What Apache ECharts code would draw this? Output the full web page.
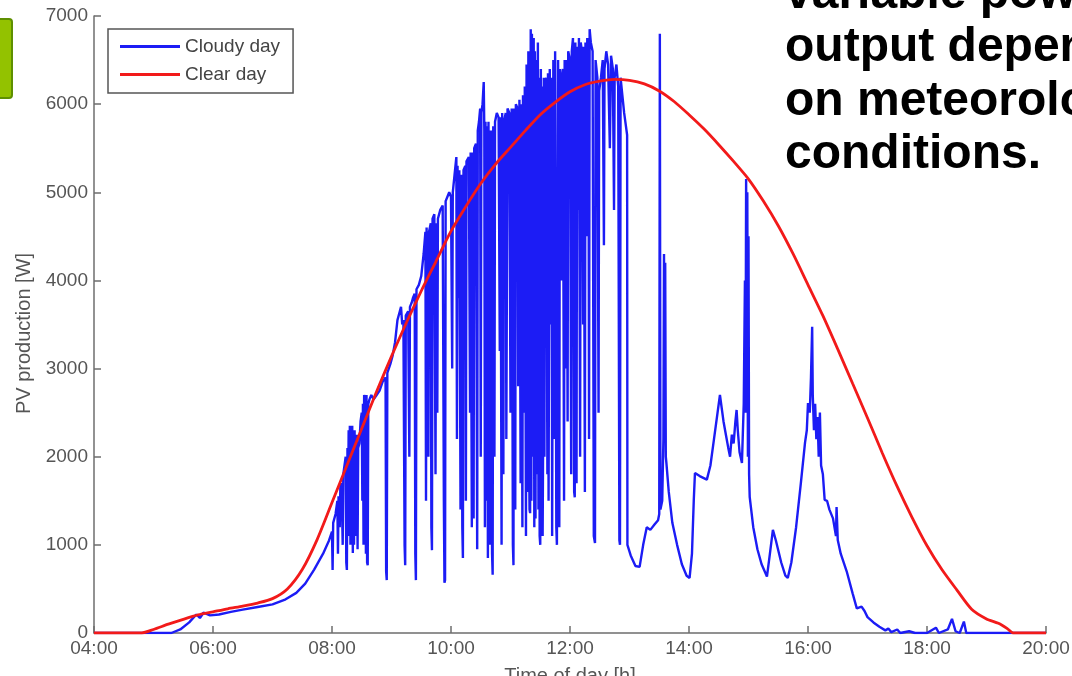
<!DOCTYPE html>
<html>
<head>
<meta charset="utf-8">
<script src="https://cdn.jsdelivr.net/npm/echarts@6/dist/echarts.min.js"></script>
<style>
html,body{margin:0;padding:0;background:#fff;}
#chart{width:1072px;height:676px;}
</style>
</head>
<body>
<div id="chart"></div>
<script>
// ---- data ----
const xTicks = [4, 6, 8, 10, 12, 14, 16, 18, 20];
const xTickLabels = ['04:00', '06:00', '08:00', '10:00', '12:00', '14:00', '16:00', '18:00', '20:00'];
const seriesNames = ['Cloudy day', 'Clear day'];
const sideText = ['variable power', 'output depends', 'on meteorological', 'conditions.'];

const clearHours = [4, 4.8, 5.0, 5.25, 5.5, 5.75, 6.0, 6.25, 6.5, 6.75, 7.0, 7.25, 7.5, 7.75, 8.0, 8.25, 8.5, 8.75,
  9.0, 9.25, 9.5, 9.75, 10.0, 10.25, 10.5, 10.75, 11.0, 11.25, 11.5, 11.75, 12.0, 12.25, 12.5, 12.75, 13.0,
  13.25, 13.5, 13.75, 14.0, 14.25, 14.5, 14.75, 15.0, 15.25, 15.5, 15.75, 16.0, 16.25, 16.5, 16.75, 17.0,
  17.25, 17.5, 17.75, 18.0, 18.25, 18.5, 18.75, 19.0, 19.2, 19.35, 19.45, 20];
const clearWatts = [0, 0, 40, 100, 155, 205, 240, 275, 305, 340, 390, 500, 720, 1060, 1480, 1900, 2320, 2740,
  3140, 3520, 3880, 4220, 4560, 4840, 5100, 5320, 5510, 5700, 5880, 6020, 6140, 6220, 6260, 6280, 6270,
  6230, 6150, 6030, 5880, 5720, 5540, 5350, 5150, 4900, 4620, 4300, 3950, 3600, 3220, 2830, 2440,
  2040, 1660, 1310, 990, 720, 490, 270, 160, 110, 50, 0, 0];

// cloudy day: [hour, watts]
const cloudyMorning = [
  [4, 0], [5.3, 0], [5.45, 40], [5.6, 120], [5.72, 210], [5.78, 170], [5.84, 230], [5.95, 200], [6.1, 210],
  [6.3, 240], [6.5, 265], [6.75, 295], [7.0, 325], [7.2, 375], [7.4, 455], [7.55, 560], [7.7, 720],
  [7.85, 900], [7.95, 1050], [8.0, 1150]
];
const cloudyMidday = [
  [8.01, 715], [8.02, 1250], [8.06, 1350], [8.09, 1500], [8.10, 900], [8.11, 1550], [8.13, 1200], [8.14, 1650],
  [8.16, 1700], [8.18, 1000], [8.19, 1800], [8.20, 1850], [8.23, 2000], [8.24, 800], [8.25, 715], [8.26, 2100],
  [8.27, 1500], [8.28, 2300], [8.29, 1100], [8.30, 2350], [8.31, 1000], [8.32, 2250], [8.33, 1200], [8.34, 2350],
  [8.35, 908], [8.36, 2250], [8.37, 1000], [8.38, 2300], [8.39, 1100], [8.40, 2200], [8.41, 1300], [8.42, 2250],
  [8.43, 950], [8.44, 2100], [8.46, 2150], [8.48, 2400], [8.50, 2500], [8.51, 1500], [8.52, 2600], [8.53, 1000],
  [8.54, 2700], [8.56, 2650], [8.57, 900], [8.58, 2700], [8.59, 800], [8.60, 770], [8.61, 2600], [8.63, 2650],
  [8.66, 2700], [8.70, 2650], [8.75, 2700], [8.80, 2750], [8.85, 2850], [8.90, 2900], [8.91, 700], [8.92, 600],
  [8.93, 2950], [8.98, 3050], [9.02, 3150], [9.06, 3300], [9.10, 3550], [9.14, 3650], [9.16, 3700], [9.18, 3500],
  [9.20, 3550], [9.22, 1000], [9.23, 770], [9.24, 3600], [9.28, 3650], [9.30, 2000], [9.31, 3700], [9.34, 3750],
  [9.36, 3800], [9.39, 3850], [9.40, 900], [9.41, 600], [9.42, 3900], [9.46, 3950], [9.50, 4050], [9.54, 4300],
  [9.57, 4550], [9.58, 1500], [9.59, 4600], [9.60, 4600], [9.62, 2000], [9.63, 4550], [9.66, 4650], [9.67, 1200],
  [9.68, 940], [9.69, 4700], [9.72, 4750], [9.74, 1800], [9.75, 4650], [9.77, 2500], [9.78, 4700], [9.82, 4800],
  [9.86, 4850], [9.88, 1500], [9.89, 570], [9.90, 600], [9.91, 4900], [9.94, 4950], [9.97, 5000],
  [10.00, 4950], [10.02, 3000], [10.03, 5000], [10.06, 5200], [10.09, 5400], [10.10, 2200], [10.11, 5300],
  [10.13, 3800], [10.14, 5250], [10.16, 1400], [10.17, 5200], [10.19, 1200], [10.20, 850], [10.21, 5250],
  [10.24, 5300], [10.25, 1500], [10.26, 5350], [10.27, 5350], [10.30, 5400], [10.32, 2500], [10.33, 5450],
  [10.35, 1200], [10.36, 5450], [10.38, 1300], [10.39, 5500], [10.42, 5550], [10.44, 950], [10.45, 5700],
  [10.47, 5800], [10.49, 5950], [10.50, 2000], [10.51, 5900], [10.53, 6000], [10.55, 6250], [10.56, 5700],
  [10.57, 1200], [10.58, 5800], [10.60, 1500], [10.61, 5750], [10.62, 850], [10.63, 5800], [10.65, 1000],
  [10.67, 5700], [10.69, 900], [10.70, 660], [10.71, 5750], [10.73, 2000], [10.74, 5800], [10.77, 5900],
  [10.80, 5850], [10.82, 3200], [10.83, 5850], [10.85, 1000], [10.86, 5900], [10.88, 1800], [10.89, 5800],
  [10.92, 5900], [10.93, 2200], [10.95, 5950], [10.98, 5900], [11.00, 2500], [11.02, 5950], [11.04, 1000],
  [11.05, 770], [11.06, 5950], [11.08, 1400], [11.09, 6000], [11.12, 5950], [11.13, 2800], [11.15, 6050],
  [11.17, 1700], [11.18, 6000], [11.20, 1200], [11.21, 6100], [11.23, 2500], [11.24, 6200], [11.26, 1100],
  [11.27, 6450], [11.29, 1600], [11.30, 6600], [11.31, 2200], [11.32, 1400], [11.33, 1360], [11.34, 6850],
  [11.35, 1500], [11.36, 6800], [11.37, 3000], [11.38, 2000], [11.39, 6750], [11.40, 1200], [11.41, 6600],
  [11.42, 1300], [11.43, 6500], [11.44, 1800], [11.45, 2200], [11.46, 6700], [11.47, 1400], [11.48, 6300],
  [11.49, 1100], [11.50, 1000], [11.51, 6400], [11.52, 1700], [11.53, 6200], [11.54, 1100], [11.55, 2400],
  [11.56, 6300], [11.57, 2000], [11.58, 6250], [11.60, 6300], [11.62, 1800], [11.63, 6350], [11.64, 1500],
  [11.66, 6400], [11.68, 3500], [11.69, 6300], [11.70, 1100], [11.72, 6500], [11.74, 2200], [11.75, 6600],
  [11.77, 1200], [11.78, 1000], [11.79, 980], [11.80, 6500], [11.82, 1200], [11.83, 6400], [11.85, 4000],
  [11.86, 6300], [11.88, 6400], [11.90, 1500], [11.91, 6500], [11.93, 3000], [11.94, 6500], [11.96, 2400],
  [11.97, 6600], [12.00, 6500], [12.02, 1800], [12.03, 6600], [12.05, 6750], [12.07, 1600], [12.08, 1540],
  [12.09, 6700], [12.11, 1700], [12.12, 6650], [12.14, 4800], [12.15, 6750], [12.17, 2000], [12.18, 6700],
  [12.20, 6600], [12.22, 3500], [12.23, 6650], [12.25, 1600], [12.26, 6700], [12.28, 4500], [12.29, 6750],
  [12.31, 6500], [12.32, 2200], [12.33, 6850], [12.35, 6700], [12.38, 6600], [12.40, 1100], [12.42, 1020],
  [12.43, 6500], [12.46, 6300], [12.48, 2500], [12.49, 6150], [12.52, 6300], [12.55, 6500], [12.57, 4400],
  [12.58, 6400], [12.61, 6600], [12.64, 6450], [12.67, 5500], [12.69, 6550], [12.72, 6400], [12.74, 4800],
  [12.75, 6300], [12.78, 6450], [12.81, 6200], [12.83, 1050], [12.84, 1000], [12.85, 6300], [12.88, 6100],
  [12.91, 5900], [12.94, 5750], [12.96, 5650]
];
const cloudyAfternoon = [
  [12.965, 1000], [13.02, 880], [13.10, 760], [13.17, 750], [13.23, 1000], [13.29, 1200], [13.35, 1170],
  [13.42, 1230], [13.48, 1280], [13.50, 1350], [13.51, 6800], [13.52, 1400], [13.55, 1500], [13.57, 2200],
  [13.58, 4300], [13.59, 2500], [13.60, 4200], [13.61, 2000], [13.62, 1930], [13.66, 1600], [13.72, 1250],
  [13.80, 1000], [13.88, 780], [13.96, 650], [14.01, 625], [14.05, 900], [14.08, 1500], [14.10, 1815],
  [14.18, 1780], [14.30, 1740], [14.36, 1900], [14.42, 2200], [14.48, 2500], [14.52, 2700], [14.55, 2680],
  [14.58, 2400], [14.62, 2250], [14.66, 2100], [14.69, 2000], [14.72, 2250], [14.75, 2150], [14.78, 2400],
  [14.80, 2530], [14.82, 2300], [14.85, 2050], [14.89, 1930], [14.92, 2600], [14.94, 4000], [14.95, 2500],
  [14.96, 5150], [14.97, 3000], [14.98, 5000], [14.99, 2000], [15.00, 4500], [15.01, 1800], [15.02, 1545],
  [15.08, 1200], [15.15, 950], [15.22, 780], [15.31, 640], [15.36, 900], [15.41, 1170], [15.46, 1050],
  [15.55, 800], [15.62, 650], [15.66, 625], [15.72, 800], [15.80, 1200], [15.88, 1700], [15.95, 2160],
  [15.98, 2300], [16.00, 2610], [16.03, 2500], [16.05, 2900], [16.07, 3475], [16.08, 2700], [16.10, 2300],
  [16.12, 2600], [16.14, 2200], [16.16, 2450], [16.18, 2000], [16.20, 2500], [16.22, 1900], [16.25, 1800],
  [16.28, 1510], [16.32, 1500], [16.36, 1400], [16.42, 1300], [16.47, 1100], [16.48, 1430], [16.50, 1055],
  [16.55, 900], [16.65, 700], [16.75, 450], [16.82, 280], [16.90, 300], [16.95, 250], [17.00, 180],
  [17.10, 120], [17.20, 70], [17.30, 30], [17.35, 50], [17.40, 10], [17.50, 40], [17.55, 0], [17.70, 20],
  [17.80, 0], [18.00, 0], [18.15, 60], [18.20, 0], [18.35, 40], [18.42, 160], [18.48, 20], [18.55, 0],
  [18.62, 130], [18.66, 0], [20, 0]
];

// ---- build ----
const cloudyData = cloudyMorning.concat(cloudyMidday, cloudyAfternoon);
const clearData = clearHours.map((h, i) => [h, clearWatts[i]]);

const chart = echarts.init(document.getElementById('chart'), null, { renderer: 'canvas' });
const FONT = '"Liberation Sans", Arial, sans-serif';
const axisGray = '#6e6e6e';

chart.setOption({
  animation: false,
  backgroundColor: '#ffffff',
  grid: { left: 94, right: 26, top: 16, bottom: 43, containLabel: false, outerBoundsMode: 'none' },
  legend: {
    data: seriesNames,
    orient: 'vertical',
    left: 108,
    top: 29,
    icon: 'rect',
    itemWidth: 60,
    itemHeight: 3,
    itemGap: 9,
    padding: [8, 13, 9, 12],
    borderColor: '#555',
    borderWidth: 1.5,
    backgroundColor: '#fff',
    textStyle: { fontFamily: FONT, fontSize: 19, color: '#444', lineHeight: 19 }
  },
  xAxis: {
    type: 'value',
    min: 4, max: 20, interval: 2,
    name: 'Time of day [h]',
    nameLocation: 'middle',
    nameGap: 33,
    nameTextStyle: { fontFamily: FONT, fontSize: 20, color: '#555' },
    axisLine: { lineStyle: { color: axisGray, width: 1.5 } },
    axisTick: { inside: true, length: 7, lineStyle: { color: axisGray, width: 1.5 } },
    splitLine: { show: false },
    axisLabel: {
      fontFamily: FONT, fontSize: 19, color: '#555', margin: 6,
      formatter: v => xTickLabels[xTicks.indexOf(v)]
    }
  },
  yAxis: {
    type: 'value',
    min: 0, max: 7000, interval: 1000,
    name: 'PV production [W]',
    nameLocation: 'middle',
    nameGap: 49,
    nameTextStyle: { fontFamily: FONT, fontSize: 20, color: '#555', padding: [0, 18, 0, 0] },
    axisLine: { show: true, lineStyle: { color: axisGray, width: 1.5 } },
    axisTick: { show: true, inside: true, length: 7, lineStyle: { color: axisGray, width: 1.5 } },
    splitLine: { show: false },
    axisLabel: { fontFamily: FONT, fontSize: 19, color: '#555', margin: 6, formatter: v => String(v) }
  },
  series: [
    {
      name: seriesNames[0], type: 'line', data: cloudyData, symbol: 'none',
      lineStyle: { color: '#1c1cf5', width: 2.4 }, itemStyle: { color: '#1c1cf5' }, z: 2
    },
    {
      name: seriesNames[1], type: 'line', data: clearData, symbol: 'none', smooth: 0.25,
      lineStyle: { color: '#f21a1a', width: 2.8 }, itemStyle: { color: '#f21a1a' }, z: 3
    }
  ],
  graphic: [
    {
      type: 'rect', left: -10, top: 18,
      shape: { width: 21, height: 79, r: 3 },
      style: { fill: '#93c200', stroke: '#5e8f00', lineWidth: 2 }
    },
    {
      type: 'text', left: 785, top: -32,
      style: {
        text: sideText.join('\n'),
        font: 'bold 48px "Liberation Sans", Arial, sans-serif',
        lineHeight: 53.5,
        fill: '#000'
      }
    }
  ]
});
</script>
</body>
</html>
